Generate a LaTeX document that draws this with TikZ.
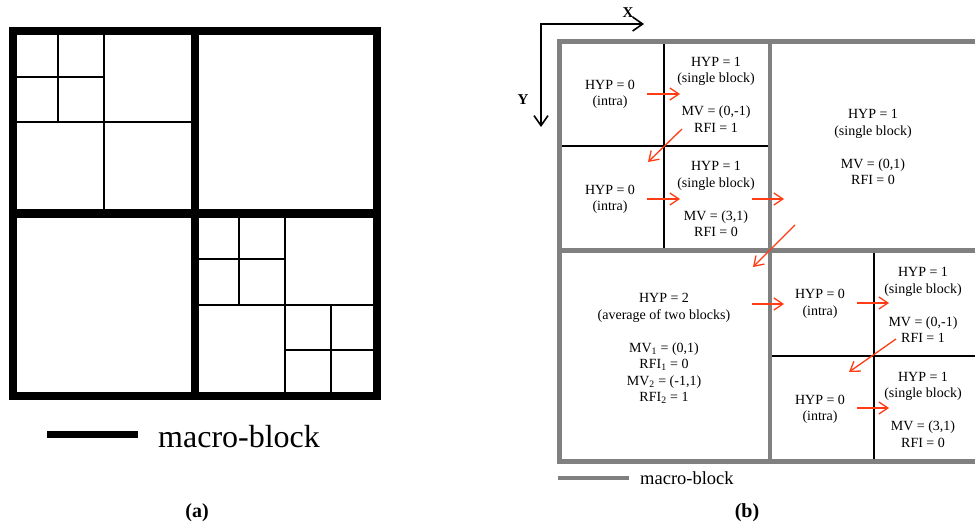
\documentclass[tikz,border=0pt]{standalone}
\usepackage{fontspec}
\setmainfont{Liberation Serif}
\usetikzlibrary{arrows.meta}
\definecolor{mbgray}{RGB}{128,128,128}
\definecolor{redarrow}{RGB}{255,60,20}
\begin{document}
\begin{tikzpicture}[x=1pt,y=-1pt,
  thickA/.style={line width=8.5pt, draw=black},
  thinA/.style={line width=1.5pt, draw=black},
  mbline/.style={line width=4.5pt, draw=mbgray},
  subline/.style={line width=1.2pt, draw=black},
  redarr/.style={draw=redarrow, line width=1.3pt, -{Straight Barb[length=9pt,width=12pt]}},
  axisline/.style={line width=1.6pt, draw=black, {Straight Barb[length=10pt,width=14pt]}-{Straight Barb[length=10pt,width=14pt]}},
  lbl/.style={font=\fontsize{14}{16.5}\selectfont, align=center, inner sep=0pt},
  captxt/.style={font=\fontsize{20}{24}\selectfont\bfseries, inner sep=0pt},
  axlbl/.style={font=\fontsize{15}{18}\selectfont\bfseries, inner sep=0pt},
]
\path[use as bounding box] (0,0) rectangle (975,527);
\clip (0,0) rectangle (975,527);

% ---------- panel (a) ----------
\draw[thinA] (104,31) -- (104,213.5);
\draw[thinA] (13,122) -- (195,122);
\draw[thinA] (58,31) -- (58,122);
\draw[thinA] (13,77) -- (104,77);
\draw[thinA] (285,213.5) -- (285,396);
\draw[thinA] (195,305) -- (377,305);
\draw[thinA] (239,213.5) -- (239,305);
\draw[thinA] (195,259) -- (285,259);
\draw[thinA] (331,305) -- (331,396);
\draw[thinA] (285,350) -- (377,350);
\draw[thickA] (13,31) rectangle (377,396);
\draw[thickA] (195,31) -- (195,396);
\draw[thickA] (13,213.5) -- (377,213.5);

\coordinate (legA1) at (47,434);
\coordinate (legA2) at (138,434);
\draw[line width=7pt] (legA1) -- (legA2);
\node[anchor=base west, inner sep=0pt, font=\fontsize{32}{36}\selectfont] (legAtxt) at (158,447) {macro-block};
\node[captxt] (capA) at (197,513) {(a)};

% ---------- panel (b) ----------
\coordinate (O) at (541,24);
\coordinate (XE) at (644,24);
\coordinate (YE) at (541,127);
\draw[axisline] (XE) -- (O) -- (YE);
\node[axlbl] (xl) at (628,13) {X};
\node[axlbl] (yl) at (523,100) {Y};

\draw[subline] (664,41.5) -- (664,250.5);
\draw[subline] (559.5,146) -- (770,146);
\draw[subline] (874,250.5) -- (874,461.5);
\draw[subline] (770,356) -- (980.5,356);
\draw[mbline] (559.5,41.5) rectangle (980.5,461.5);
\draw[mbline] (770,41.5) -- (770,461.5);
\draw[mbline] (559.5,250.5) -- (980.5,250.5);

\node[lbl] (t11) at (610,94.5) {HYP = 0\\(intra)};
\node[lbl] (t12) at (716,94.5) {HYP = 1\\(single block)\\[16.5pt]MV = (0,-1)\\RFI = 1};
\node[lbl] (t21) at (610,199.5) {HYP = 0\\(intra)};
\node[lbl] (t22) at (716,199) {HYP = 1\\(single block)\\[16.5pt]MV = (3,1)\\RFI = 0};
\node[lbl] (tTR) at (873,147) {HYP = 1\\(single block)\\[16.5pt]MV = (0,1)\\RFI = 0};
\node[lbl] (tBL) at (664,348.5) {HYP = 2\\(average of two blocks)\\[16.5pt]MV\textsubscript{1} = (0,1)\\RFI\textsubscript{1} = 0\\MV\textsubscript{2} = (-1,1)\\RFI\textsubscript{2} = 1};
\node[lbl] (u11) at (820,304) {HYP = 0\\(intra)};
\node[lbl] (u12) at (923,305) {HYP = 1\\(single block)\\[16.5pt]MV = (0,-1)\\RFI = 1};
\node[lbl] (u21) at (820,409.5) {HYP = 0\\(intra)};
\node[lbl] (u22) at (923,409.5) {HYP = 1\\(single block)\\[16.5pt]MV = (3,1)\\RFI = 0};

\coordinate (a1s) at (647,94);
\coordinate (a1e) at (680,94);
\coordinate (a2s) at (682,129);
\coordinate (a2e) at (648,162);
\coordinate (a3s) at (647,199);
\coordinate (a3e) at (680,199);
\coordinate (a4s) at (752,199);
\coordinate (a4e) at (784,199);
\coordinate (a5s) at (795,225);
\coordinate (a5e) at (753,267);
\coordinate (a6s) at (752,304);
\coordinate (a6e) at (784,304);
\coordinate (a7s) at (857,303);
\coordinate (a7e) at (889,303);
\coordinate (a8s) at (896,339);
\coordinate (a8e) at (849,372);
\coordinate (a9s) at (857,408);
\coordinate (a9e) at (889,408);
\draw[redarr] (a1s) -- (a1e);
\draw[redarr] (a2s) -- (a2e);
\draw[redarr] (a3s) -- (a3e);
\draw[redarr] (a4s) -- (a4e);
\draw[redarr] (a5s) -- (a5e);
\draw[redarr] (a6s) -- (a6e);
\draw[redarr] (a7s) -- (a7e);
\draw[redarr] (a8s) -- (a8e);
\draw[redarr] (a9s) -- (a9e);

\coordinate (legB1) at (558,478);
\coordinate (legB2) at (629,478);
\draw[line width=4.5pt, draw=mbgray] (legB1) -- (legB2);
\node[anchor=base west, inner sep=0pt, font=\fontsize{18.5}{22}\selectfont] (legBtxt) at (640,484.5) {macro-block};
\node[captxt] (capB) at (747,513) {(b)};
\end{tikzpicture}
\end{document}
